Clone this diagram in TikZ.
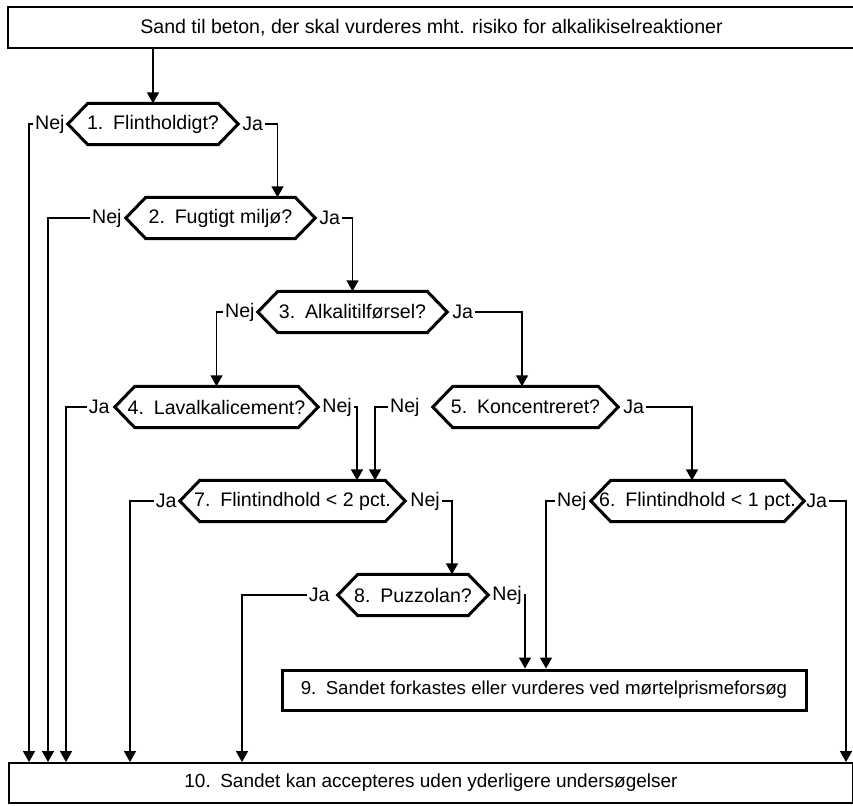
\documentclass[tikz,border=0pt]{standalone}
\usepackage{fontspec}
\setmainfont{Liberation Sans}
\usetikzlibrary{arrows.meta,positioning}

\begin{document}
\begin{tikzpicture}[
    x=1pt, y=-1pt,
    every node/.style={font=\fontsize{19.6}{22}\selectfont},
    flow/.style={line width=1.6pt, -{Triangle[width=12pt,length=11pt]}},
    box/.style={draw, line width=2pt, minimum height=40pt, inner sep=0pt},
    decision/.style={minimum width=#1, minimum height=41pt, inner sep=0pt},
    hexline/.style={line width=3pt},
    lab/.style={inner sep=2pt}
]

    \useasboundingbox (0,0) rectangle (853,805);

    % --- BOXES ---
    \node[box, minimum width=847pt, minimum height=41pt] (start) at (431.5,27.5)
        {Sand til beton, der skal vurderes mht. risiko for alkalikiselreaktioner};
    \node[box, line width=3pt, minimum width=524pt, font=\fontsize{18.7}{22}\selectfont] (reject) at (544,690)
        {9.\hspace{0.5em}Sandet forkastes eller vurderes ved mørtelprismeforsøg};
    \node[box, minimum width=844pt, font=\fontsize{19}{22}\selectfont] (accept) at (431,783)
        {10.\hspace{0.5em}Sandet kan accepteres uden yderligere undersøgelser};

    % --- DECISIONS ---
    \node[decision=170pt] (d1) at (153,124)   {1.\hspace{0.5em}Flintholdigt?};
    \node[decision=189pt] (d2) at (220.5,218) {2.\hspace{0.5em}Fugtigt miljø?};
    \node[decision=189pt] (d3) at (352.5,312) {3.\hspace{0.5em}Alkalitilførsel?};
    \node[decision=203pt] (d4) at (216.5,407) {4.\hspace{0.5em}Lavalkalicement?};
    \node[decision=185pt] (d5) at (525.5,407) {5.\hspace{0.5em}Koncentreret?};
    \node[decision=213pt] (d6) at (697.5,501) {6.\hspace{0.5em}Flintindhold < 1 pct.};
    \node[decision=225pt] (d7) at (292.5,501) {7.\hspace{0.5em}Flintindhold < 2 pct.};
    \node[decision=150pt] (d8) at (413,595)   {8.\hspace{0.5em}Puzzolan?};

    % hexagon outlines
    \foreach \d in {d1,d2,d3,d4,d5,d6,d7,d8}
        \draw[hexline] (\d.west) -- ([xshift=20pt]\d.north west) -- ([xshift=-20pt]\d.north east)
            -- (\d.east) -- ([xshift=-20pt]\d.south east) -- ([xshift=20pt]\d.south west) -- cycle;

    % --- ANSWERS ---
    \node[lab, left=1pt of d1]  (n1) {Nej};
    \node[lab, right=2pt of d1] (j1) {Ja};
    \node[lab, left=2pt of d2]  (n2) {Nej};
    \node[lab, right=2pt of d2] (j2) {Ja};
    \node[lab, left=1pt of d3]  (n3) {Nej};
    \node[lab, right=3pt of d3] (j3) {Ja};
    \node[lab, left=3pt of d4]  (j4) {Ja};
    \node[lab, right=2pt of d4] (n4) {Nej};
    \node[lab, left=11pt of d5] (n5) {Nej};
    \node[lab, right=3pt of d5] (j5) {Ja};
    \node[lab, left=2pt of d6]  (n6) {Nej};
    \node[lab, right=0pt of d6] (j6) {Ja};
    \node[lab, left=1pt of d7]  (j7) {Ja};
    \node[lab, right=3pt of d7] (n7) {Nej};
    \node[lab, left=6pt of d8]  (j8) {Ja};
    \node[lab, right=2pt of d8] (n8) {Nej};

    % --- CONNECTORS ---
    \draw[flow] (d1.north |- start.south) -- (d1.north);
    \draw[flow] (j1.east) -| ([xshift=57pt]d2.north);
    \draw[flow] (j2.east) -| (d3.north);
    \draw[flow] (n3.west) -| (d4.north);
    \draw[flow] (j3.east) -| ([xshift=-3.5pt]d5.north);
    \draw[flow] (n4.east) -| ([xshift=64.5pt]d7.north);
    \draw[flow] (n5.west) -| ([xshift=82.5pt]d7.north);
    \draw[flow] (j5.east) -| ([xshift=-5.5pt]d6.north);
    \draw[flow] (n7.east) -| ([xshift=39pt]d8.north);
    \draw[flow] (n8.east) -| ([xshift=-19pt]reject.north);
    \draw[flow] (n6.west) -| ([xshift=2pt]reject.north);

    % straight to accept
    \draw[flow] (n1.west) -| ([xshift=21pt]accept.north west);
    \draw[flow] (n2.west) -| ([xshift=40pt]accept.north west);
    \draw[flow] (j4.west) -| ([xshift=58pt]accept.north west);
    \draw[flow] (j7.west) -| ([xshift=122pt]accept.north west);
    \draw[flow] (j8.west) -| ([xshift=234pt]accept.north west);
    \draw[flow] (j6.east) -| ([xshift=838pt]accept.north west);

\end{tikzpicture}
\end{document}
